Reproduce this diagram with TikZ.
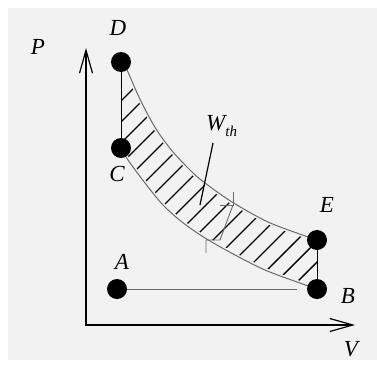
\documentclass[tikz,border=0pt]{standalone}
\usepackage{fontspec}
\setmainfont{Liberation Serif}
\usetikzlibrary{arrows.meta}
\definecolor{bg}{HTML}{F2F2F2}
\definecolor{curvegray}{HTML}{6A6A6A}
\begin{document}
\begin{tikzpicture}[x=1pt,y=-1pt,
  dot/.style={circle,fill=black,inner sep=0pt,minimum size=20pt},
  lbl/.style={font=\fontsize{23}{26}\selectfont\itshape,inner sep=0pt},
  curveline/.style={draw=curvegray,line width=1pt},
  hatchline/.style={draw=black,line width=1.4pt},
  axisline/.style={draw=black,line width=1.2pt},
  barb/.tip={Straight Barb[length=23pt,width=13pt,line width=1.2pt]}]
\useasboundingbox (0,0) rectangle (377,367);
\fill[white] (0,0) rectangle (377,367);
\fill[bg] (8,8) rectangle (377,360);
% points
\coordinate (D) at (121,62);
\coordinate (C) at (121,148);
\coordinate (E) at (317,240);
\coordinate (B) at (317,289);
\coordinate (A) at (117,289);
\coordinate (O) at (86,325);
\coordinate (Ytop) at (86,48);
\coordinate (Xend) at (355,325);
\coordinate (ABend) at (297,289);
% hatching
\begin{scope}
\clip plot[smooth] coordinates {(D) (127,70) (138,95) (148,115) (158,132) (173,152) (192,172) (205,183) (232,202) (268,222) (308,237) (E)}
  -- plot[smooth] coordinates {(B) (297,282) (265,270) (235,255) (205,238) (182,222) (163,205) (145,183) (128,160) (C)} -- cycle;
\foreach \c in {222,243,...,580} \draw[hatchline] (100,\c-100) -- (340,\c-340);
\end{scope}
% gaps along curves
\draw[bg,line width=4pt] plot[smooth] coordinates {(D) (127,70) (138,95) (148,115) (158,132) (173,152) (192,172) (205,183) (232,202) (268,222) (308,237) (E)};
\draw[bg,line width=4pt] plot[smooth] coordinates {(B) (297,282) (265,270) (235,255) (205,238) (182,222) (163,205) (145,183) (128,160) (C)};
% curves
\draw[curveline] plot[smooth] coordinates {(D) (127,70) (138,95) (148,115) (158,132) (173,152) (192,172) (205,183) (232,202) (268,222) (308,237) (E)};
\draw[curveline] plot[smooth] coordinates {(B) (297,282) (265,270) (235,255) (205,238) (182,222) (163,205) (145,183) (128,160) (C)};
% direction marks
\draw[curvegray,line width=0.9pt] (233,192) -- (233,205) -- (220,205);
\draw[curvegray,line width=0.9pt] (233,205) -- (220,240) -- (206,240) -- (206,253);
% axes
\draw[axisline,barb-barb] (Ytop) -- (O) -- (Xend);
% sides
\draw[black,line width=1pt] (D) -- (C);
\draw[black,line width=1pt] (E) -- (B);
\draw[curveline] (A) -- (ABend);
% dots
\node[dot] (nD) at (D) {};
\node[dot] (nC) at (C) {};
\node[dot] (nE) at (E) {};
\node[dot] (nB) at (B) {};
\node[dot] (nA) at (A) {};
% labels
\node[lbl] (lP) at (38,47) {P};
\node[lbl] (lD) at (118,28) {D};
\node[lbl] (lC) at (117,174) {C};
\node[lbl] (lA) at (122,262) {A};
\node[lbl] (lE) at (327,205) {E};
\node[lbl] (lB) at (348,296) {B};
\node[lbl] (lV) at (351,349) {V};
\node[lbl,anchor=west] (lW) at (206,126) {W\raisebox{-6pt}{\fontsize{15}{17}\selectfont th}};
\coordinate (Wtail) at (213,143);
\coordinate (Whead) at (200,205);
\draw[black,line width=1.2pt] (Wtail) -- (Whead);
\end{tikzpicture}
\end{document}
